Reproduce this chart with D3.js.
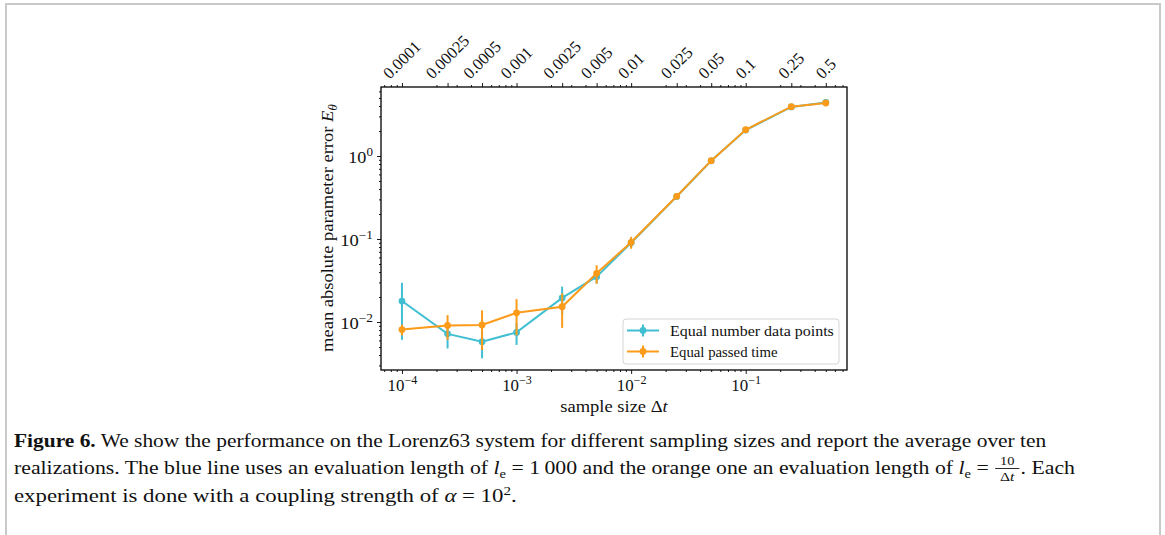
<!DOCTYPE html>
<html>
<head>
<meta charset="utf-8">
<script src="https://cdn.jsdelivr.net/npm/d3@7"></script>
<style>
  body { margin: 0; background: #fff; }
  svg { display: block; }
  text { font-family: "Liberation Serif", "DejaVu Serif", serif; fill: #111; }
</style>
</head>
<body>
<script>
// Sampling step sizes Δt (x positions of both series)
const sampleSizes = [1e-4, 2.5e-4, 5e-4, 1e-3, 2.5e-3, 5e-3, 1e-2, 2.5e-2, 5e-2, 0.1, 0.25, 0.5];
// Labels on the secondary (top) axis
const topLabels = ["0.0001", "0.00025", "0.0005", "0.001", "0.0025", "0.005", "0.01", "0.025", "0.05", "0.1", "0.25", "0.5"];

// Series 1: equal number of data points (mean error and std over realizations)
const equalPointsMean = [0.0179, 0.0072, 0.0058, 0.0075, 0.0195, 0.0352, 0.090, 0.325, 0.875, 2.05, 3.90, 4.42];
const equalPointsErr  = [0.0118, 0.0024, 0.00215, 0.0022, 0.0072, 0.006, 0.012, 0.012, 0.025, 0.04, 0.05, 0.08];
// Series 2: equal passed time
const equalTimeMean = [0.0081, 0.0091, 0.0092, 0.0129, 0.0153, 0.0386, 0.0912, 0.327, 0.879, 2.07, 3.93, 4.35];
const equalTimeErr  = [0.0012, 0.003, 0.0046, 0.006, 0.0068, 0.0097, 0.015, 0.012, 0.03, 0.05, 0.08, 0.1];

const seriesNames = ["Equal number data points", "Equal passed time"];
const xMajorTicks = [1e-4, 1e-3, 1e-2, 1e-1];
const yMajorTicks = [1e-2, 1e-1, 1];

const colors = ["#41bfd2", "#fb9b19"];

const W = 1165, H = 535;
const svg = d3.select("body").append("svg").attr("width", W).attr("height", H);

// page frame
svg.append("path").attr("d", `M6,${H} V4 H1160 V${H}`)
  .attr("stroke", "#c9c9c9").attr("stroke-width", 2).attr("fill", "none");

const plot = { left: 381, right: 847, top: 87, bottom: 370 };
const x = d3.scaleLog().domain([10 ** -4.183, 10 ** -0.116]).range([plot.left, plot.right]);
const y = d3.scaleLog().domain([10 ** -2.578, 10 ** 0.831]).range([plot.bottom, plot.top]);

function minorTicks(scale, majors) {
  const [a, b] = scale.domain();
  const out = [];
  for (let n = -6; n <= 1; n++) {
    for (let k = 1; k <= 9; k++) {
      const v = k * 10 ** n;
      if (v >= a && v <= b && !majors.some(m => Math.abs(m - v) / v < 1e-6)) out.push(v);
    }
  }
  return out;
}

function styleAxis(g) {
  g.select(".domain").remove();
  g.selectAll(".tick line").attr("stroke", "#000").attr("stroke-width", 0.9);
}

// stretch a text horizontally (about its own x origin) to a given width
function stretchTo(sel, target, baseTransform) {
  const w = sel.node().getBBox().width;
  const sx = target / w;
  sel.attr("transform", `${baseTransform || ""} scale(${sx},1)`);
}

const tickFont = 16;
function powerLabel(sel, exp) {
  sel.text(null);
  sel.append("tspan").text("10");
  sel.append("tspan").attr("dy", -6.5).attr("font-size", tickFont * 0.72)
    .text(exp === 0 ? "0" : "\u2212" + Math.abs(exp));
}

// bottom axis: major + minor
const bottomMajor = svg.append("g").attr("transform", `translate(0,${plot.bottom})`)
  .call(d3.axisBottom(x).tickValues(xMajorTicks).tickSize(4).tickFormat(() => ""));
styleAxis(bottomMajor);
svg.append("g").attr("transform", `translate(0,${plot.bottom})`)
  .call(d3.axisBottom(x).tickValues(minorTicks(x, xMajorTicks)).tickSize(2).tickFormat(() => ""))
  .call(styleAxis);
bottomMajor.selectAll(".tick text").each(function (d) {
  const t = d3.select(this).attr("font-size", tickFont).attr("y", 21).attr("dy", null)
    .attr("x", 0).attr("text-anchor", "middle").attr("fill", "#111");
  powerLabel(t, Math.round(Math.log10(d)));
  stretchTo(t, 30);
});

// left axis
const leftMajor = svg.append("g").attr("transform", `translate(${plot.left},0)`)
  .call(d3.axisLeft(y).tickValues(yMajorTicks).tickSize(4).tickFormat(() => ""));
styleAxis(leftMajor);
svg.append("g").attr("transform", `translate(${plot.left},0)`)
  .call(d3.axisLeft(y).tickValues(minorTicks(y, yMajorTicks)).tickSize(2).tickFormat(() => ""))
  .call(styleAxis);
leftMajor.selectAll(".tick text").each(function (d) {
  const t = d3.select(this).attr("font-size", tickFont).attr("x", 0).attr("y", 0).attr("dy", "0.4em")
    .attr("text-anchor", "end").attr("fill", "#111");
  powerLabel(t, Math.round(Math.log10(d)));
  const w = t.node().getBBox().width;
  t.attr("transform", `translate(-8,0) scale(${(d === 1 ? 25 : 33) / w},1)`);
});

// top (secondary) axis with the actual sample sizes
const topMajor = svg.append("g").attr("transform", `translate(0,${plot.top})`)
  .call(d3.axisTop(x).tickValues(sampleSizes).tickSize(4).tickFormat(() => ""));
styleAxis(topMajor);
svg.append("g").attr("transform", `translate(0,${plot.top})`)
  .call(d3.axisTop(x).tickValues(minorTicks(x, sampleSizes)).tickSize(2).tickFormat(() => ""))
  .call(styleAxis);

const topLabelG = svg.append("g");
sampleSizes.forEach((v, i) => {
  const t = topLabelG.append("text").attr("font-size", 16.5).attr("text-anchor", "middle")
    .attr("dominant-baseline", "central").text(topLabels[i]);
  const w = t.node().getComputedTextLength();
  const h = 11.5;
  const half = (w + h) * Math.SQRT1_2 / 2;
  t.attr("transform", `translate(${x(v)},${80 - half}) rotate(-45)`);
});

// plot frame
svg.append("rect").attr("x", plot.left).attr("y", plot.top)
  .attr("width", plot.right - plot.left).attr("height", plot.bottom - plot.top)
  .attr("fill", "none").attr("stroke", "#000").attr("stroke-width", 1.3);

// series with error bars
const series = [
  { mean: equalPointsMean, err: equalPointsErr, color: colors[0] },
  { mean: equalTimeMean, err: equalTimeErr, color: colors[1] }
];
const line = d3.line().x(d => x(d.x)).y(d => y(d.y));
series.forEach(s => {
  const pts = sampleSizes.map((v, i) => ({ x: v, y: s.mean[i], e: s.err[i] }));
  const g = svg.append("g");
  g.selectAll("line.err").data(pts).join("line").attr("class", "err")
    .attr("x1", d => x(d.x)).attr("x2", d => x(d.x))
    .attr("y1", d => y(d.y + d.e)).attr("y2", d => y(Math.max(d.y - d.e, 1e-4)))
    .attr("stroke", s.color).attr("stroke-width", 2);
  g.append("path").datum(pts).attr("d", line).attr("fill", "none")
    .attr("stroke", s.color).attr("stroke-width", 2);
  g.selectAll("circle").data(pts).join("circle")
    .attr("cx", d => x(d.x)).attr("cy", d => y(d.y)).attr("r", 3.4).attr("fill", s.color);
});

// legend
const lg = svg.append("g");
lg.append("rect").attr("x", 623).attr("y", 319).attr("width", 216).attr("height", 45).attr("rx", 3)
  .attr("fill", "#fff").attr("fill-opacity", 0.85).attr("stroke", "#d6d6d6").attr("stroke-width", 1);
const legendWidths = [164, 108];
seriesNames.forEach((name, i) => {
  const cy = 330.5 + i * 21;
  lg.append("line").attr("x1", 627).attr("x2", 659).attr("y1", cy).attr("y2", cy)
    .attr("stroke", colors[i]).attr("stroke-width", 2);
  lg.append("line").attr("x1", 643).attr("x2", 643).attr("y1", cy - 6).attr("y2", cy + 6)
    .attr("stroke", colors[i]).attr("stroke-width", 2);
  lg.append("circle").attr("cx", 643).attr("cy", cy).attr("r", 3.4).attr("fill", colors[i]);
  const t = lg.append("text").attr("x", 0).attr("y", 0).attr("dy", "0.35em").attr("font-size", 15).text(name);
  stretchTo(t, legendWidths[i], `translate(670,${cy})`);
});

// axis titles
const xt = svg.append("text").attr("x", 0).attr("y", 0).attr("text-anchor", "middle").attr("font-size", 16.5);
xt.append("tspan").text("sample size \u0394");
xt.append("tspan").attr("font-style", "italic").text("t");
stretchTo(xt, 108, "translate(614,412)");

const yt = svg.append("text").attr("x", 0).attr("y", 0).attr("text-anchor", "middle").attr("font-size", 16.5);
yt.append("tspan").text("mean absolute parameter error ");
yt.append("tspan").attr("font-style", "italic").text("E");
yt.append("tspan").attr("font-style", "italic").attr("font-size", 12).attr("dy", 4).text("\u03b8");
stretchTo(yt, 248, "translate(333,228) rotate(-90)");

// caption
const capSize = 18;
function fitLine(g, endX) {
  const bb = g.node().getBBox();
  const sx = (endX - 14) / (bb.x + bb.width - 14);
  g.attr("transform", `translate(14,0) scale(${sx},1) translate(-14,0)`);
}

const c1 = svg.append("g");
const t1 = c1.append("text").attr("x", 14).attr("y", 447).attr("font-size", capSize);
t1.append("tspan").attr("font-weight", "bold").text("Figure 6.");
t1.append("tspan").text(" We show the performance on the Lorenz63 system for different sampling sizes and report the average over ten");
fitLine(c1, 1047);

const c2 = svg.append("g");
const t2 = c2.append("text").attr("x", 14).attr("y", 474).attr("font-size", capSize);
t2.append("tspan").text("realizations. The blue line uses an evaluation length of ");
t2.append("tspan").attr("font-style", "italic").text("l");
t2.append("tspan").attr("font-size", 12).attr("dy", 4).text("e");
t2.append("tspan").attr("dy", -4).text(" = 1\u2009000 and the orange one an evaluation length of ");
t2.append("tspan").attr("font-style", "italic").text("l");
t2.append("tspan").attr("font-size", 12).attr("dy", 4).text("e");
t2.append("tspan").attr("dy", -4).text(" = ");
const bb2 = t2.node().getBBox();
const fx = bb2.x + bb2.width + 5;
c2.append("text").attr("x", fx + 10).attr("y", 465).attr("font-size", 12).attr("text-anchor", "middle").text("10");
c2.append("line").attr("x1", fx).attr("x2", fx + 20).attr("y1", 468.5).attr("y2", 468.5).attr("stroke", "#111").attr("stroke-width", 0.8);
const den = c2.append("text").attr("x", fx + 10).attr("y", 481).attr("font-size", 13).attr("text-anchor", "middle");
den.append("tspan").text("\u0394");
den.append("tspan").attr("font-style", "italic").text("t");
c2.append("text").attr("x", fx + 21).attr("y", 474).attr("font-size", capSize).text(". Each");
fitLine(c2, 1075);

const c3 = svg.append("g");
const t3 = c3.append("text").attr("x", 14).attr("y", 502).attr("font-size", capSize);
t3.append("tspan").text("experiment is done with a coupling strength of ");
t3.append("tspan").attr("font-style", "italic").text("\u03b1");
t3.append("tspan").text(" = 10");
t3.append("tspan").attr("font-size", 12).attr("dy", -7).text("2");
t3.append("tspan").attr("dy", 7).text(".");
fitLine(c3, 517);
</script>
</body>
</html>
